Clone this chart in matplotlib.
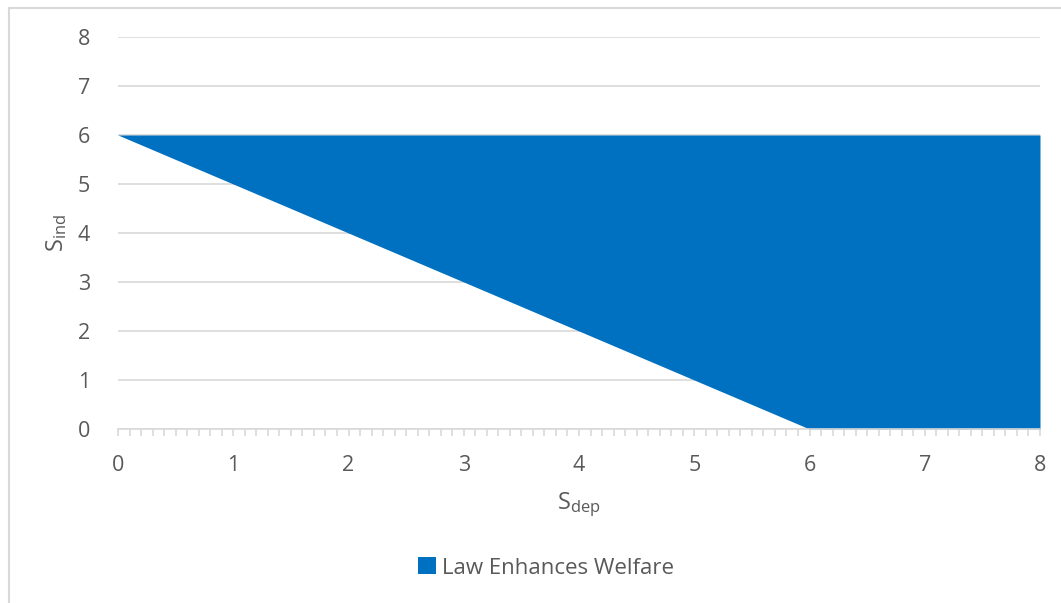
import matplotlib.pyplot as plt
from matplotlib.patches import Rectangle, Patch
from matplotlib.ticker import MultipleLocator

plt.rcParams['font.family'] = ['Open Sans', 'DejaVu Sans']
plt.rcParams['mathtext.default'] = 'regular'

# boundary of the region where the law enhances welfare
s_dep = [0, 6, 8]
s_ind_low = [6, 0, 0]
s_ind_high = [6, 6, 6]

x_ticks = [0, 1, 2, 3, 4, 5, 6, 7, 8]
y_ticks = [0, 1, 2, 3, 4, 5, 6, 7, 8]

BLUE = '#0070C0'
GREY_TXT = '#595959'
GRID = '#D9D9D9'

fig = plt.figure(figsize=(10.61, 6.03), dpi=100)
W, H = 1061, 603

# chart area border (runs off the right and bottom edges)
fig.patches.append(Rectangle((9 / W, -0.1), 1.2, 1 - 8 / H + 0.1, transform=fig.transFigure,
                             fill=False, edgecolor='#D9D9D9', linewidth=1.5))

ax = fig.add_axes([118 / W, 1 - 429 / H, (1040 - 118) / W, (429 - 37) / H])

ax.fill_between(s_dep, s_ind_low, s_ind_high, color=BLUE, linewidth=0, zorder=2,
                label='Law Enhances Welfare')

ax.set_xlim(0, 8)
ax.set_ylim(0, 8)
ax.set_xticks(x_ticks)
ax.set_yticks(y_ticks)
ax.xaxis.set_minor_locator(MultipleLocator(0.1))

for side in ['top', 'right', 'left']:
    ax.spines[side].set_visible(False)
ax.spines['bottom'].set_color(GRID)
ax.spines['bottom'].set_linewidth(1.2)
ax.spines['bottom'].set_zorder(3)

ax.grid(axis='y', color=GRID, linewidth=1.2, zorder=1)
ax.tick_params(axis='y', length=0, pad=20, labelsize=15.5, labelcolor=GREY_TXT)
ax.tick_params(axis='x', which='both', direction='out', length=5, width=1.2,
               color=GRID, labelsize=15.5, labelcolor=GREY_TXT, pad=14)

ax.set_xlabel('S$_{dep}$', fontsize=17, color=GREY_TXT, labelpad=10)
ax.set_ylabel('S$_{ind}$', fontsize=17, color=GREY_TXT, labelpad=6)

fig.legend(handles=[Patch(facecolor=BLUE, label='Law Enhances Welfare')],
           loc='center', bbox_to_anchor=(546 / W, 1 - 568 / H), frameon=False,
           fontsize=16, labelcolor=GREY_TXT, handlelength=0.8, handleheight=0.8,
           handletextpad=0.3)

fig.savefig('out.png', dpi=100)
